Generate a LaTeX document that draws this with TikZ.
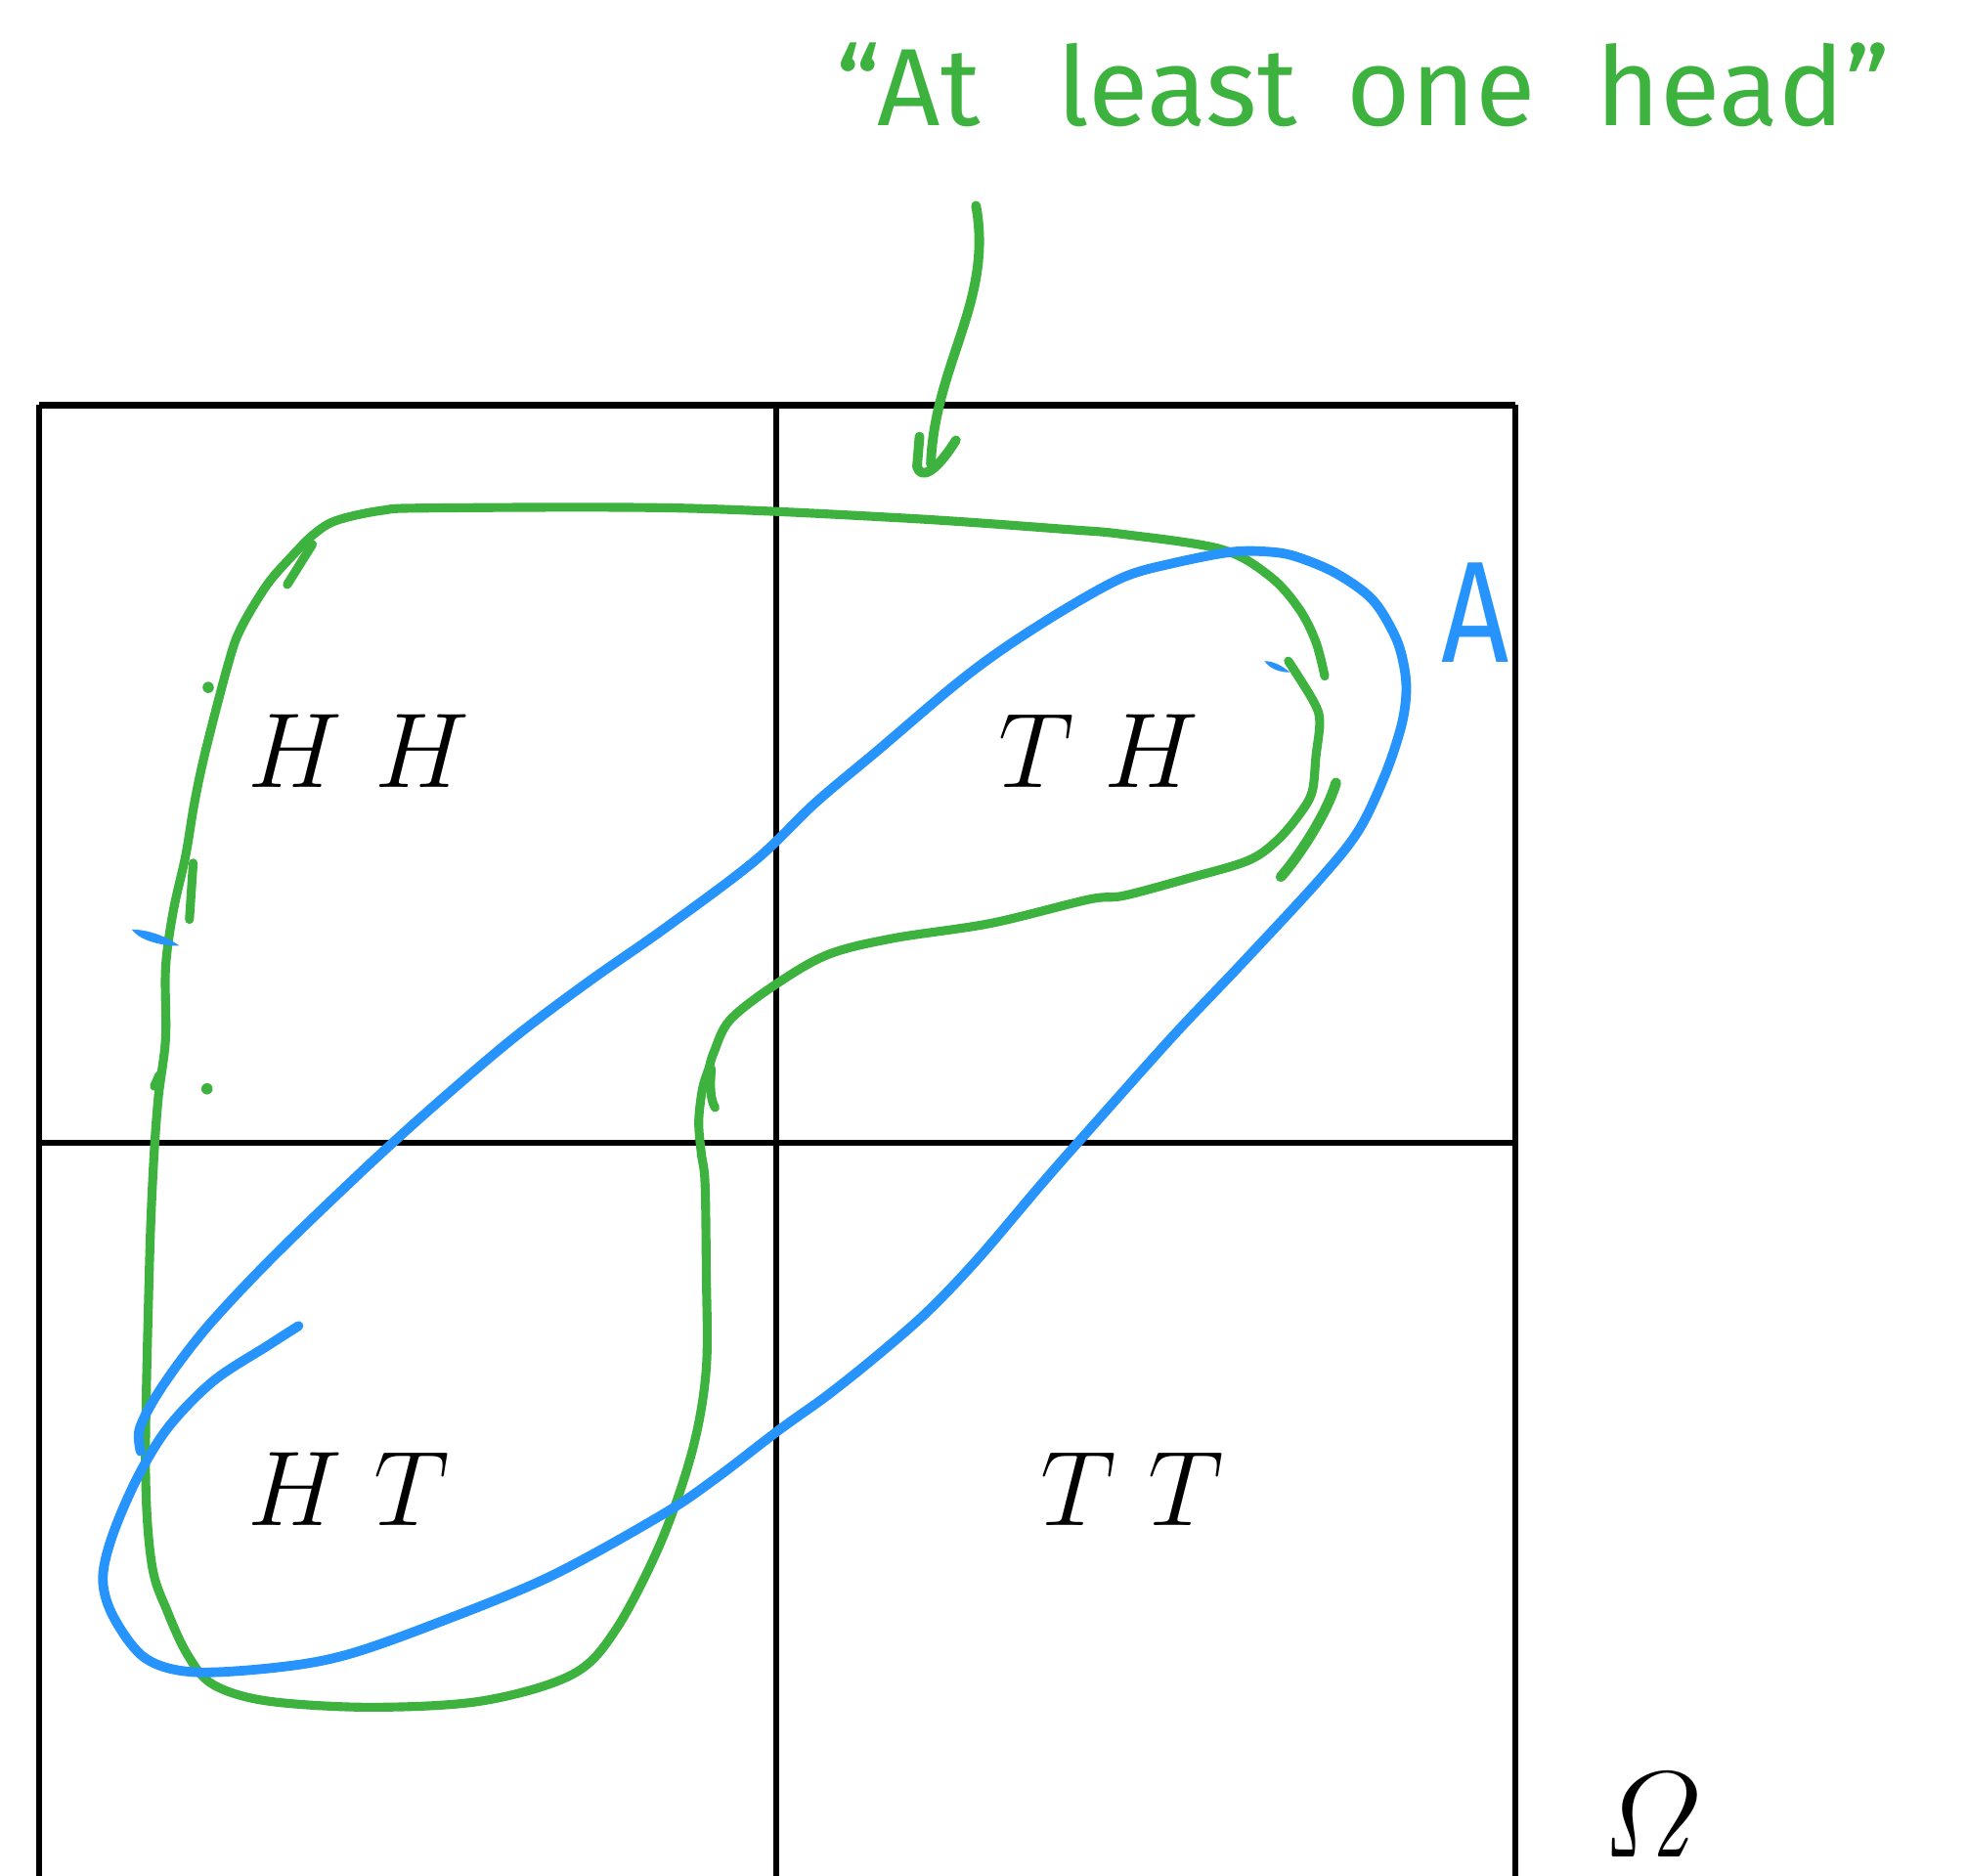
\documentclass[tikz,border=0pt]{standalone}
\usepackage{amsmath}
\usepackage{fontspec}
\usepackage{tikz}
\newfontfamily\handfont{Fira Sans}

\definecolor{penGreen}{RGB}{62,178,62}
\definecolor{penBlue}{RGB}{38,148,252}

\begin{document}
\begin{tikzpicture}[x=0.012832cm,y=-0.012832cm,
		grid/.style={line width=1.8pt},
		pen/.style={line width=2.6pt,line cap=round,line join=round},
		outcome/.style={inner sep=0pt,anchor=base,font=\Huge,scale=1.246}]
	\useasboundingbox (0,0) rectangle (1568,1495);
	% sample space of two coin tosses
	\draw[grid] (31,323) -- (1208,323);
	\draw[grid] (31,911) -- (1208,911);
	\draw[grid] (31,323) -- (31,1510);
	\draw[grid] (619,323) -- (619,1510);
	\draw[grid] (1208,323) -- (1208,1510);
	\node[outcome] (hh) at (286,628) {$H\ H$};
	\node[outcome] (th) at (876,628) {$T\;H$};
	\node[outcome] (ht) at (278,1216) {$H\ T$};
	\node[outcome] (tt) at (903,1216) {$T\ T$};
	\node[outcome,scale=1.15] (omega) at (1317,1480) {$\varOmega$};
	% green loop: at least one head
	\draw[pen,penGreen] plot[smooth,tension=0.55] coordinates {
		(1027,527) (1047,559) (1052,575) (1049,603) (1046,631) (1036,649)
		(1018,670) (995,686) (948,700) (896,714) (868,717) (790,736) (712,748)
		(660,761) (618,785) (582,813) (569,839) (565,852) (560,868) (557,894)
		(559,919) (562,943) (563,1013) (563,1091) (552,1156) (527,1229)
		(491,1299) (456,1335) (384,1356) (295,1361) (213,1356) (170,1343)
		(150,1320) (134,1286) (121,1247) (116,1169) (119,1013) (122,935)
		(126,877) (132,828) (132,772) (138,727) (148,682) (155,640) (164,598)
		(182,529) (192,501) (213,466) (234,442) (250,426) (268,415) (304,407)
		(343,405) (540,405) (720,413) (850,422) (896,426) (974,438)
		(1013,460) (1036,486) (1049,512) (1056,539)};
	\draw[pen,penGreen] (249,434) -- (229,466);
	\draw[pen,penGreen] (154,688) -- (151,733);
	\draw[pen,penGreen] (127,857) -- (123,866);
	\draw[pen,penGreen] (567,852) .. controls (566,866) and (566,876) .. (570,883);
	\draw[pen,penGreen,line width=3pt] (1065,624) .. controls (1058,648) and (1036,682) .. (1021,699);
	\fill[penGreen] (166,548) circle (4.5);
	\fill[penGreen] (165,868) circle (4.5);
	% blue loop: event A
	\draw[pen,penBlue,line width=2.8pt] plot[smooth,tension=0.55] coordinates {
		(238,1057) (213,1073) (170,1101) (134,1138) (109,1179) (89,1226)
		(82,1260) (91,1290) (116,1322) (155,1333) (223,1329) (277,1319)
		(348,1294) (438,1257) (527,1208) (570,1179) (621,1140) (660,1112)
		(700,1080) (740,1045) (780,1003) (831,943) (868,901) (935,826)
		(990,768) (1052,701) (1083,662) (1104,618) (1117,579) (1121,552)
		(1119,530) (1112,507) (1094,478) (1065,457) (1034,444) (1013,440)
		(982,440) (935,449) (896,460) (850,485) (800,517) (760,547) (700,598)
		(650,640) (602,686) (530,740) (470,782) (410,827) (350,878) (300,923)
		(240,980) (200,1020) (165,1058) (140,1090) (122,1117) (111,1140)
		(112,1157)};
	\fill[penBlue] (105,741) .. controls (120,741) and (135,748) .. (143,754)
		.. controls (128,754) and (112,750) .. cycle;
	\fill[penBlue] (1008,527) .. controls (1015,527) and (1023,531) .. (1028,536)
		.. controls (1020,536) and (1012,533) .. cycle;
	\node[penBlue,inner sep=0pt,anchor=base,xscale=0.82,font=\handfont\fontsize{42}{48}\selectfont] (eventA) at (1176,528) {A};
	% annotation and its arrow
	\node[penGreen,inner sep=0pt,anchor=base west,font=\handfont\fontsize{32}{38}\selectfont] (note) at (666,100)
		{“At\hspace{0.7em}least\hspace{0.45em}one\hspace{0.55em}head”};
	\coordinate (arrowtail) at (778,164);
	\coordinate (arrowtip) at (742,370);
	\draw[pen,penGreen,line width=2.8pt] (arrowtail) .. controls (792,240) and (745,290) .. (arrowtip);
	\draw[pen,penGreen,line width=2.8pt] (733,348) -- (731,372) .. controls (734,382) and (745,378) .. (762,351);
\end{tikzpicture}
\end{document}
